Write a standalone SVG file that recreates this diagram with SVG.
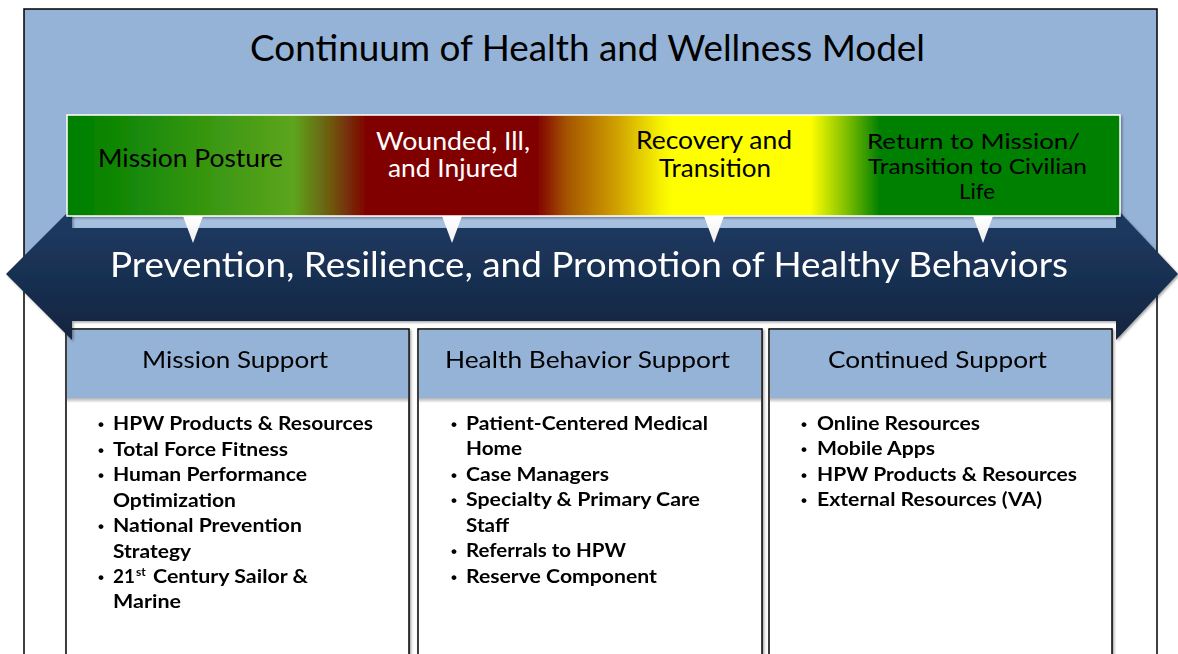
<svg xmlns="http://www.w3.org/2000/svg" width="1178" height="654" viewBox="0 0 1178 654">
  <defs>
    <style>
      .ttl { font-family: Lato, "Liberation Sans", sans-serif; font-size: 36px; fill: #000; }
      .stage { font-family: Lato, "Liberation Sans", sans-serif; font-size: 25px; }
      .stage-s { font-family: Lato, "Liberation Sans", sans-serif; font-size: 22px; fill: #000; }
      .band { font-family: Lato, "Liberation Sans", sans-serif; font-size: 35px; fill: #fff; }
      .hdr { font-family: Lato, "Liberation Sans", sans-serif; font-size: 24px; fill: #000; }
      .item { font-family: Lato, "Liberation Sans", sans-serif; font-size: 18px; font-weight: bold; fill: #000; }
      .dot { font-family: "Liberation Sans", sans-serif; font-size: 17px; font-weight: bold; fill: #000; }
      .frame { fill: none; stroke: #000; stroke-width: 1.5; }
      .box { fill: #fff; stroke: #000; stroke-width: 1.5; }
      .boxhead { fill: #95b3d7; }
      .pointer { fill: url(#ptrGrad); }
    </style>
    <linearGradient id="stageGrad" gradientUnits="userSpaceOnUse" x1="67" y1="0" x2="1120" y2="0">
      <stop offset="0" stop-color="#008000"/>
      <stop offset="0.012" stop-color="#008000"/>
      <stop offset="0.215" stop-color="#5da51c"/>
      <stop offset="0.25" stop-color="#6e5a10"/>
      <stop offset="0.285" stop-color="#800000"/>
      <stop offset="0.446" stop-color="#800000"/>
      <stop offset="0.475" stop-color="#a55500"/>
      <stop offset="0.522" stop-color="#cfa000"/>
      <stop offset="0.563" stop-color="#f5f000"/>
      <stop offset="0.575" stop-color="#ffff00"/>
      <stop offset="0.706" stop-color="#ffff00"/>
      <stop offset="0.74" stop-color="#80bf00"/>
      <stop offset="0.772" stop-color="#008000"/>
      <stop offset="1" stop-color="#008000"/>
    </linearGradient>
    <linearGradient id="bandGrad" x1="0" y1="0" x2="0" y2="1">
      <stop offset="0" stop-color="#1f3c65"/>
      <stop offset="1" stop-color="#13243f"/>
    </linearGradient>
    <linearGradient id="ptrGrad" x1="0" y1="0" x2="0" y2="1">
      <stop offset="0" stop-color="#ffffff"/>
      <stop offset="1" stop-color="#f0f0f0"/>
    </linearGradient>
    <linearGradient id="headShadow" x1="0" y1="0" x2="0" y2="1">
      <stop offset="0" stop-color="#000" stop-opacity="0.3"/>
      <stop offset="1" stop-color="#000" stop-opacity="0"/>
    </linearGradient>
    <filter id="soft" x="-5%" y="-5%" width="110%" height="115%">
      <feDropShadow dx="1.5" dy="1.5" stdDeviation="1.2" flood-color="#000" flood-opacity="0.35"/>
    </filter>
  </defs>

  <!-- outer frame with the blue upper panel -->
  <rect x="24" y="9" width="1133" height="266" fill="#95b3d7"/>
  <rect class="frame" x="24" y="9" width="1133" height="660"/>

  <g id="title">
    <text class="ttl" x="250" y="61" textLength="675" lengthAdjust="spacingAndGlyphs">Continuum of Health and Wellness Model</text>
  </g>

  <!-- pale strip behind the stage bar -->
  <rect x="72" y="214" width="1044" height="14" fill="#a8c0e0"/>

  <!-- support columns -->
  <g id="mission-support" filter="url(#soft)">
    <rect class="box" x="66" y="329" width="343" height="340"/>
    <rect class="boxhead" x="67" y="330" width="341" height="68"/>
    <rect x="67" y="398" width="341" height="5" fill="url(#headShadow)"/>
    <text class="hdr" x="142" y="368" textLength="186" lengthAdjust="spacingAndGlyphs">Mission Support</text>
    <g class="dot">
      <text x="98" y="430">•</text>
      <text x="98" y="456">•</text>
      <text x="98" y="481">•</text>
      <text x="98" y="532">•</text>
      <text x="98" y="583">•</text>
    </g>
    <g class="item">
      <text x="113" y="430" textLength="260" lengthAdjust="spacingAndGlyphs">HPW Products &amp; Resources</text>
      <text x="113" y="456" textLength="175" lengthAdjust="spacingAndGlyphs">Total Force Fitness</text>
      <text x="113" y="481" textLength="194" lengthAdjust="spacingAndGlyphs">Human Performance</text>
      <text x="113" y="507" textLength="123" lengthAdjust="spacingAndGlyphs">Optimization</text>
      <text x="113" y="532" textLength="189" lengthAdjust="spacingAndGlyphs">National Prevention</text>
      <text x="113" y="558" textLength="78" lengthAdjust="spacingAndGlyphs">Strategy</text>
      <text x="113" y="583" textLength="22" lengthAdjust="spacingAndGlyphs">21</text>
      <text x="136" y="576" font-size="12">st</text>
      <text x="153" y="583" textLength="155" lengthAdjust="spacingAndGlyphs">Century Sailor &amp;</text>
      <text x="113" y="608" textLength="68" lengthAdjust="spacingAndGlyphs">Marine</text>
    </g>
  </g>

  <g id="health-behavior-support" filter="url(#soft)">
    <rect class="box" x="418" y="329" width="344" height="340"/>
    <rect class="boxhead" x="419" y="330" width="342" height="68"/>
    <rect x="419" y="398" width="342" height="5" fill="url(#headShadow)"/>
    <text class="hdr" x="445" y="368" textLength="285" lengthAdjust="spacingAndGlyphs">Health Behavior Support</text>
    <g class="dot">
      <text x="451" y="430">•</text>
      <text x="451" y="481">•</text>
      <text x="451" y="506">•</text>
      <text x="451" y="557">•</text>
      <text x="451" y="583">•</text>
    </g>
    <g class="item">
      <text x="466" y="430" textLength="242" lengthAdjust="spacingAndGlyphs">Patient-Centered Medical</text>
      <text x="466" y="455" textLength="56" lengthAdjust="spacingAndGlyphs">Home</text>
      <text x="466" y="481" textLength="143" lengthAdjust="spacingAndGlyphs">Case Managers</text>
      <text x="466" y="506" textLength="234" lengthAdjust="spacingAndGlyphs">Specialty &amp; Primary Care</text>
      <text x="466" y="532" textLength="43" lengthAdjust="spacingAndGlyphs">Staff</text>
      <text x="466" y="557" textLength="160" lengthAdjust="spacingAndGlyphs">Referrals to HPW</text>
      <text x="466" y="583" textLength="191" lengthAdjust="spacingAndGlyphs">Reserve Component</text>
    </g>
  </g>

  <g id="continued-support" filter="url(#soft)">
    <rect class="box" x="769" y="329" width="343" height="340"/>
    <rect class="boxhead" x="770" y="330" width="341" height="68"/>
    <rect x="770" y="398" width="341" height="5" fill="url(#headShadow)"/>
    <text class="hdr" x="828" y="368" textLength="219" lengthAdjust="spacingAndGlyphs">Continued Support</text>
    <g class="dot">
      <text x="801" y="430">•</text>
      <text x="801" y="455">•</text>
      <text x="801" y="481">•</text>
      <text x="801" y="506">•</text>
    </g>
    <g class="item">
      <text x="817" y="430" textLength="163" lengthAdjust="spacingAndGlyphs">Online Resources</text>
      <text x="817" y="455" textLength="118" lengthAdjust="spacingAndGlyphs">Mobile Apps</text>
      <text x="817" y="481" textLength="260" lengthAdjust="spacingAndGlyphs">HPW Products &amp; Resources</text>
      <text x="817" y="506" textLength="225" lengthAdjust="spacingAndGlyphs">External Resources (VA)</text>
    </g>
  </g>

  <!-- double-headed band -->
  <g id="prevention-band" filter="url(#soft)">
    <polygon fill="url(#bandGrad)" points="6,274 72,208 72,228 1116,228 1116,208 1178,274 1116,340 1116,321 72,321 72,340"/>
    <text class="band" x="110" y="277" textLength="958" lengthAdjust="spacingAndGlyphs">Prevention, Resilience, and Promotion of Healthy Behaviors</text>
  </g>

  <!-- stage bar -->
  <g id="stage-bar" filter="url(#soft)">
    <rect x="67" y="115" width="1053" height="101" fill="url(#stageGrad)" stroke="#fff" stroke-width="1.5"/>
  </g>

  <g id="connectors">
    <polygon class="pointer" points="183,216 203,216 193,243"/>
    <polygon class="pointer" points="442,216 462,216 452,243"/>
    <polygon class="pointer" points="704,216 724,216 714,243"/>
    <polygon class="pointer" points="973,216 993,216 983,243"/>
  </g>

  <g id="stage-mission-posture">
    <text class="stage" x="98" y="167" fill="#000" textLength="185" lengthAdjust="spacingAndGlyphs">Mission Posture</text>
  </g>
  <g id="stage-wounded">
    <text class="stage" x="376" y="150" fill="#fff" textLength="154" lengthAdjust="spacingAndGlyphs">Wounded, Ill,</text>
    <text class="stage" x="388" y="177" fill="#fff" textLength="130" lengthAdjust="spacingAndGlyphs">and Injured</text>
  </g>
  <g id="stage-recovery">
    <text class="stage" x="636" y="149" fill="#000" textLength="156" lengthAdjust="spacingAndGlyphs">Recovery and</text>
    <text class="stage" x="659" y="177" fill="#000" textLength="112" lengthAdjust="spacingAndGlyphs">Transition</text>
  </g>
  <g id="stage-return">
    <text class="stage-s" x="867" y="149" textLength="213" lengthAdjust="spacingAndGlyphs">Return to Mission/</text>
    <text class="stage-s" x="868" y="174" textLength="219" lengthAdjust="spacingAndGlyphs">Transition to Civilian</text>
    <text class="stage-s" x="959" y="199" textLength="36" lengthAdjust="spacingAndGlyphs">Life</text>
  </g>
</svg>
